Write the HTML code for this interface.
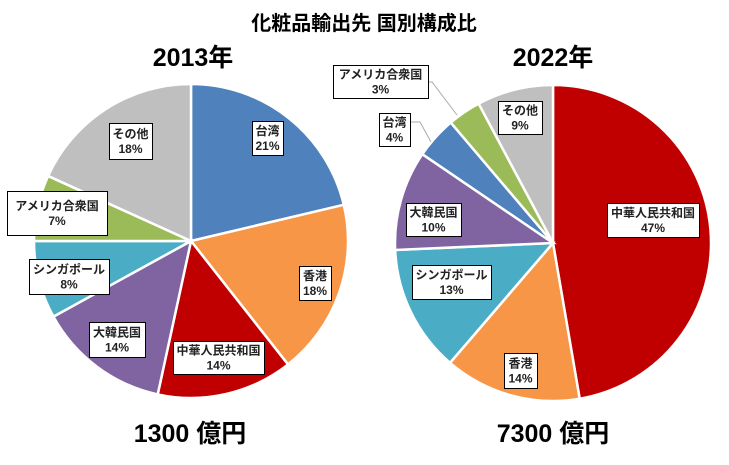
<!DOCTYPE html>
<html><head><meta charset="utf-8"><style>
body{margin:0;background:#fff;}
svg{display:block;font-family:"Liberation Sans","Noto Sans CJK JP",sans-serif;}
.lb{font-size:12px;font-weight:bold;fill:#222;}
</style></head><body>
<svg id="s" width="729" height="465" viewBox="0 0 729 465">
<rect width="729" height="465" fill="#fff"/>
<text x="364" y="30" text-anchor="middle" font-size="20" font-weight="bold">化粧品輸出先 国別構成比</text>
<text x="193" y="66" text-anchor="middle" font-size="25" font-weight="bold">2013年</text>
<text x="553" y="66" text-anchor="middle" font-size="25" font-weight="bold">2022年</text>
<text x="190" y="442" text-anchor="middle" font-size="25" font-weight="bold">1300 億円</text>
<text x="553" y="442" text-anchor="middle" font-size="25" font-weight="bold">7300 億円</text>
<g id="p1"></g><g id="p2"></g>
<polyline points="410,122 420,122 431,142" fill="none" stroke="#aaa" stroke-width="1"/>
<polyline points="428,82 432,82 457,115" fill="none" stroke="#aaa" stroke-width="1"/>
<g id="L"></g>
</svg>
<script>
var NS="http://www.w3.org/2000/svg";
function pie(g,cx,cy,r,data){var a=0;data.forEach(function(d){var a0=a/100*2*Math.PI;a+=d[0];var a1=a/100*2*Math.PI;
var x0=cx+r*Math.sin(a0),y0=cy-r*Math.cos(a0),x1=cx+r*Math.sin(a1),y1=cy-r*Math.cos(a1);
var p=document.createElementNS(NS,"path");p.setAttribute("d","M"+cx+","+cy+"L"+x0+","+y0+"A"+r+","+r+" 0 "+(d[0]>50?1:0)+" 1 "+x1+","+y1+"Z");
p.setAttribute("fill",d[1]);p.setAttribute("stroke","#fff");p.setAttribute("stroke-width","2.5");document.getElementById(g).appendChild(p);});}
pie("p1",191,241,157,[[21.3,"#4f81bd"],[18.1,"#f79646"],[14,"#c00000"],[13.6,"#8064a2"],[8,"#4bacc6"],[6.8,"#9bbb59"],[18.2,"#bfbfbf"]]);
pie("p2",553,243,158,[[47.3,"#c00000"],[14,"#f79646"],[13,"#4bacc6"],[10.2,"#8064a2"],[4.3,"#4f81bd"],[3.4,"#9bbb59"],[7.8,"#bfbfbf"]]);
var labels=[["台湾","21%",252,121,283,155],["香港","18%",299,266,331,300],["中華人民共和国","14%",173,341,264,374],["大韓民国","14%",89,322,145,357],["シンガポール","8%",29,259,109,294],["アメリカ合衆国","7%",7,191,107,235],["その他","18%",109,123,152,159],
["中華人民共和国","47%",607,203,699,237],["香港","14%",504,353,537,388],["シンガポール","13%",412,265,491,299],["大韓民国","10%",406,203,461,236],["台湾","4%",379,113,410,146],["アメリカ合衆国","3%",333,65,428,98],["その他","9%",498,101,542,134]];
var L=document.getElementById("L");
labels.forEach(function(l){var r=document.createElementNS(NS,"rect");r.setAttribute("x",l[2]+0.5);r.setAttribute("y",l[3]+0.5);r.setAttribute("width",l[4]-l[2]);r.setAttribute("height",l[5]-l[3]);r.setAttribute("fill","#fff");r.setAttribute("stroke","#000");L.appendChild(r);
var cx=(l[2]+l[4])/2,cy=(l[3]+l[5])/2;
[[l[0],cy-3],[l[1],cy+12]].forEach(function(t){var e=document.createElementNS(NS,"text");e.setAttribute("x",cx);e.setAttribute("y",t[1]);e.setAttribute("text-anchor","middle");e.setAttribute("class","lb");e.textContent=t[0];L.appendChild(e);});});
</script>
</body></html>
